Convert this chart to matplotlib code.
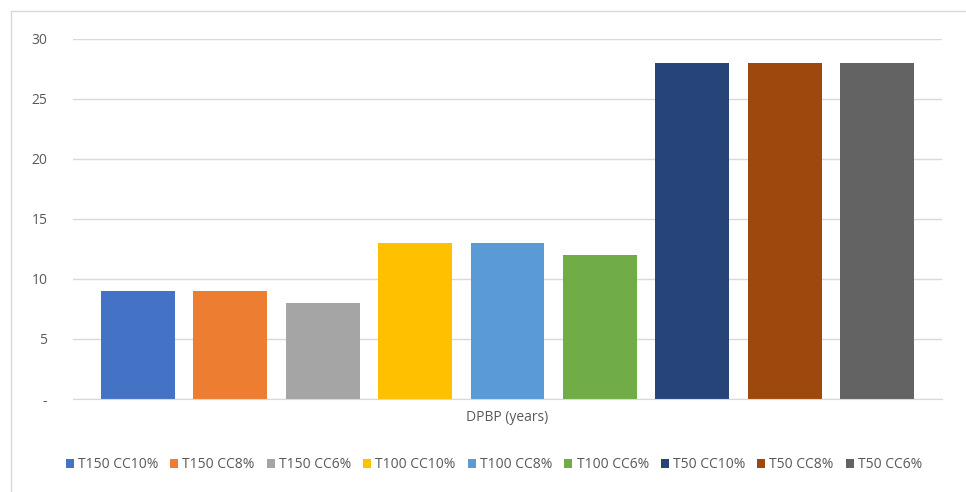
import matplotlib
matplotlib.use("Agg")
import matplotlib.pyplot as plt
from matplotlib.patches import Rectangle

plt.rcParams['font.family'] = ['Open Sans', 'DejaVu Sans']

series = ["T150 CC10%", "T150 CC8%", "T150 CC6%",
          "T100 CC10%", "T100 CC8%", "T100 CC6%",
          "T50 CC10%", "T50 CC8%", "T50 CC6%"]
values = [9, 9, 8, 13, 13, 12, 28, 28, 28]
colors = ["#4472C4", "#ED7D31", "#A5A5A5", "#FFC000", "#5B9BD5",
          "#70AD47", "#264478", "#9E480E", "#636363"]
category = "DPBP (years)"
yticks = [0, 5, 10, 15, 20, 25, 30]
ytick_labels = ["-", "5", "10", "15", "20", "25", "30"]

W, H = 966, 492
fig = plt.figure(figsize=(W / 100, H / 100), dpi=100)
ax = fig.add_axes([73 / W, 1 - 399 / H, (942 - 73) / W, (399 - 39) / H])

txt = "#595959"
for i, (s, v, c) in enumerate(zip(series, values, colors)):
    ax.bar(i, v, width=0.8, color=c, label=s, zorder=3)

ax.set_xlim(-0.703, len(values) - 1 + 0.703)
ax.set_ylim(0, 30)
ax.set_yticks(yticks)
ax.set_yticklabels(ytick_labels, color=txt, fontsize=10)
ax.set_xticks([(len(values) - 1) / 2])
ax.set_xticklabels([category], color=txt, fontsize=10)
ax.tick_params(axis='y', length=0, pad=18.5)
ax.tick_params(axis='x', length=0, pad=8)
ax.grid(axis='y', color="#D9D9D9", linewidth=1, zorder=0)
for sp in ['top', 'right', 'left']:
    ax.spines[sp].set_visible(False)
ax.spines['bottom'].set_color("#D9D9D9")
ax.spines['bottom'].set_zorder(4)

fig.legend(loc='center', bbox_to_anchor=(494 / W, 1 - 465 / H), ncol=9,
           frameon=False, fontsize=10, handlelength=0.58, handleheight=0.58,
           handletextpad=0.3, columnspacing=0.86, labelcolor=txt)

# chart border (right and bottom edges fall outside the image)
fig.patches.append(Rectangle((11 / W, -0.01), 1.0, 1 - 11 / H + 0.01,
                             transform=fig.transFigure, fill=False,
                             edgecolor="#D9D9D9", linewidth=1))

fig.savefig("out.png", dpi=100)
